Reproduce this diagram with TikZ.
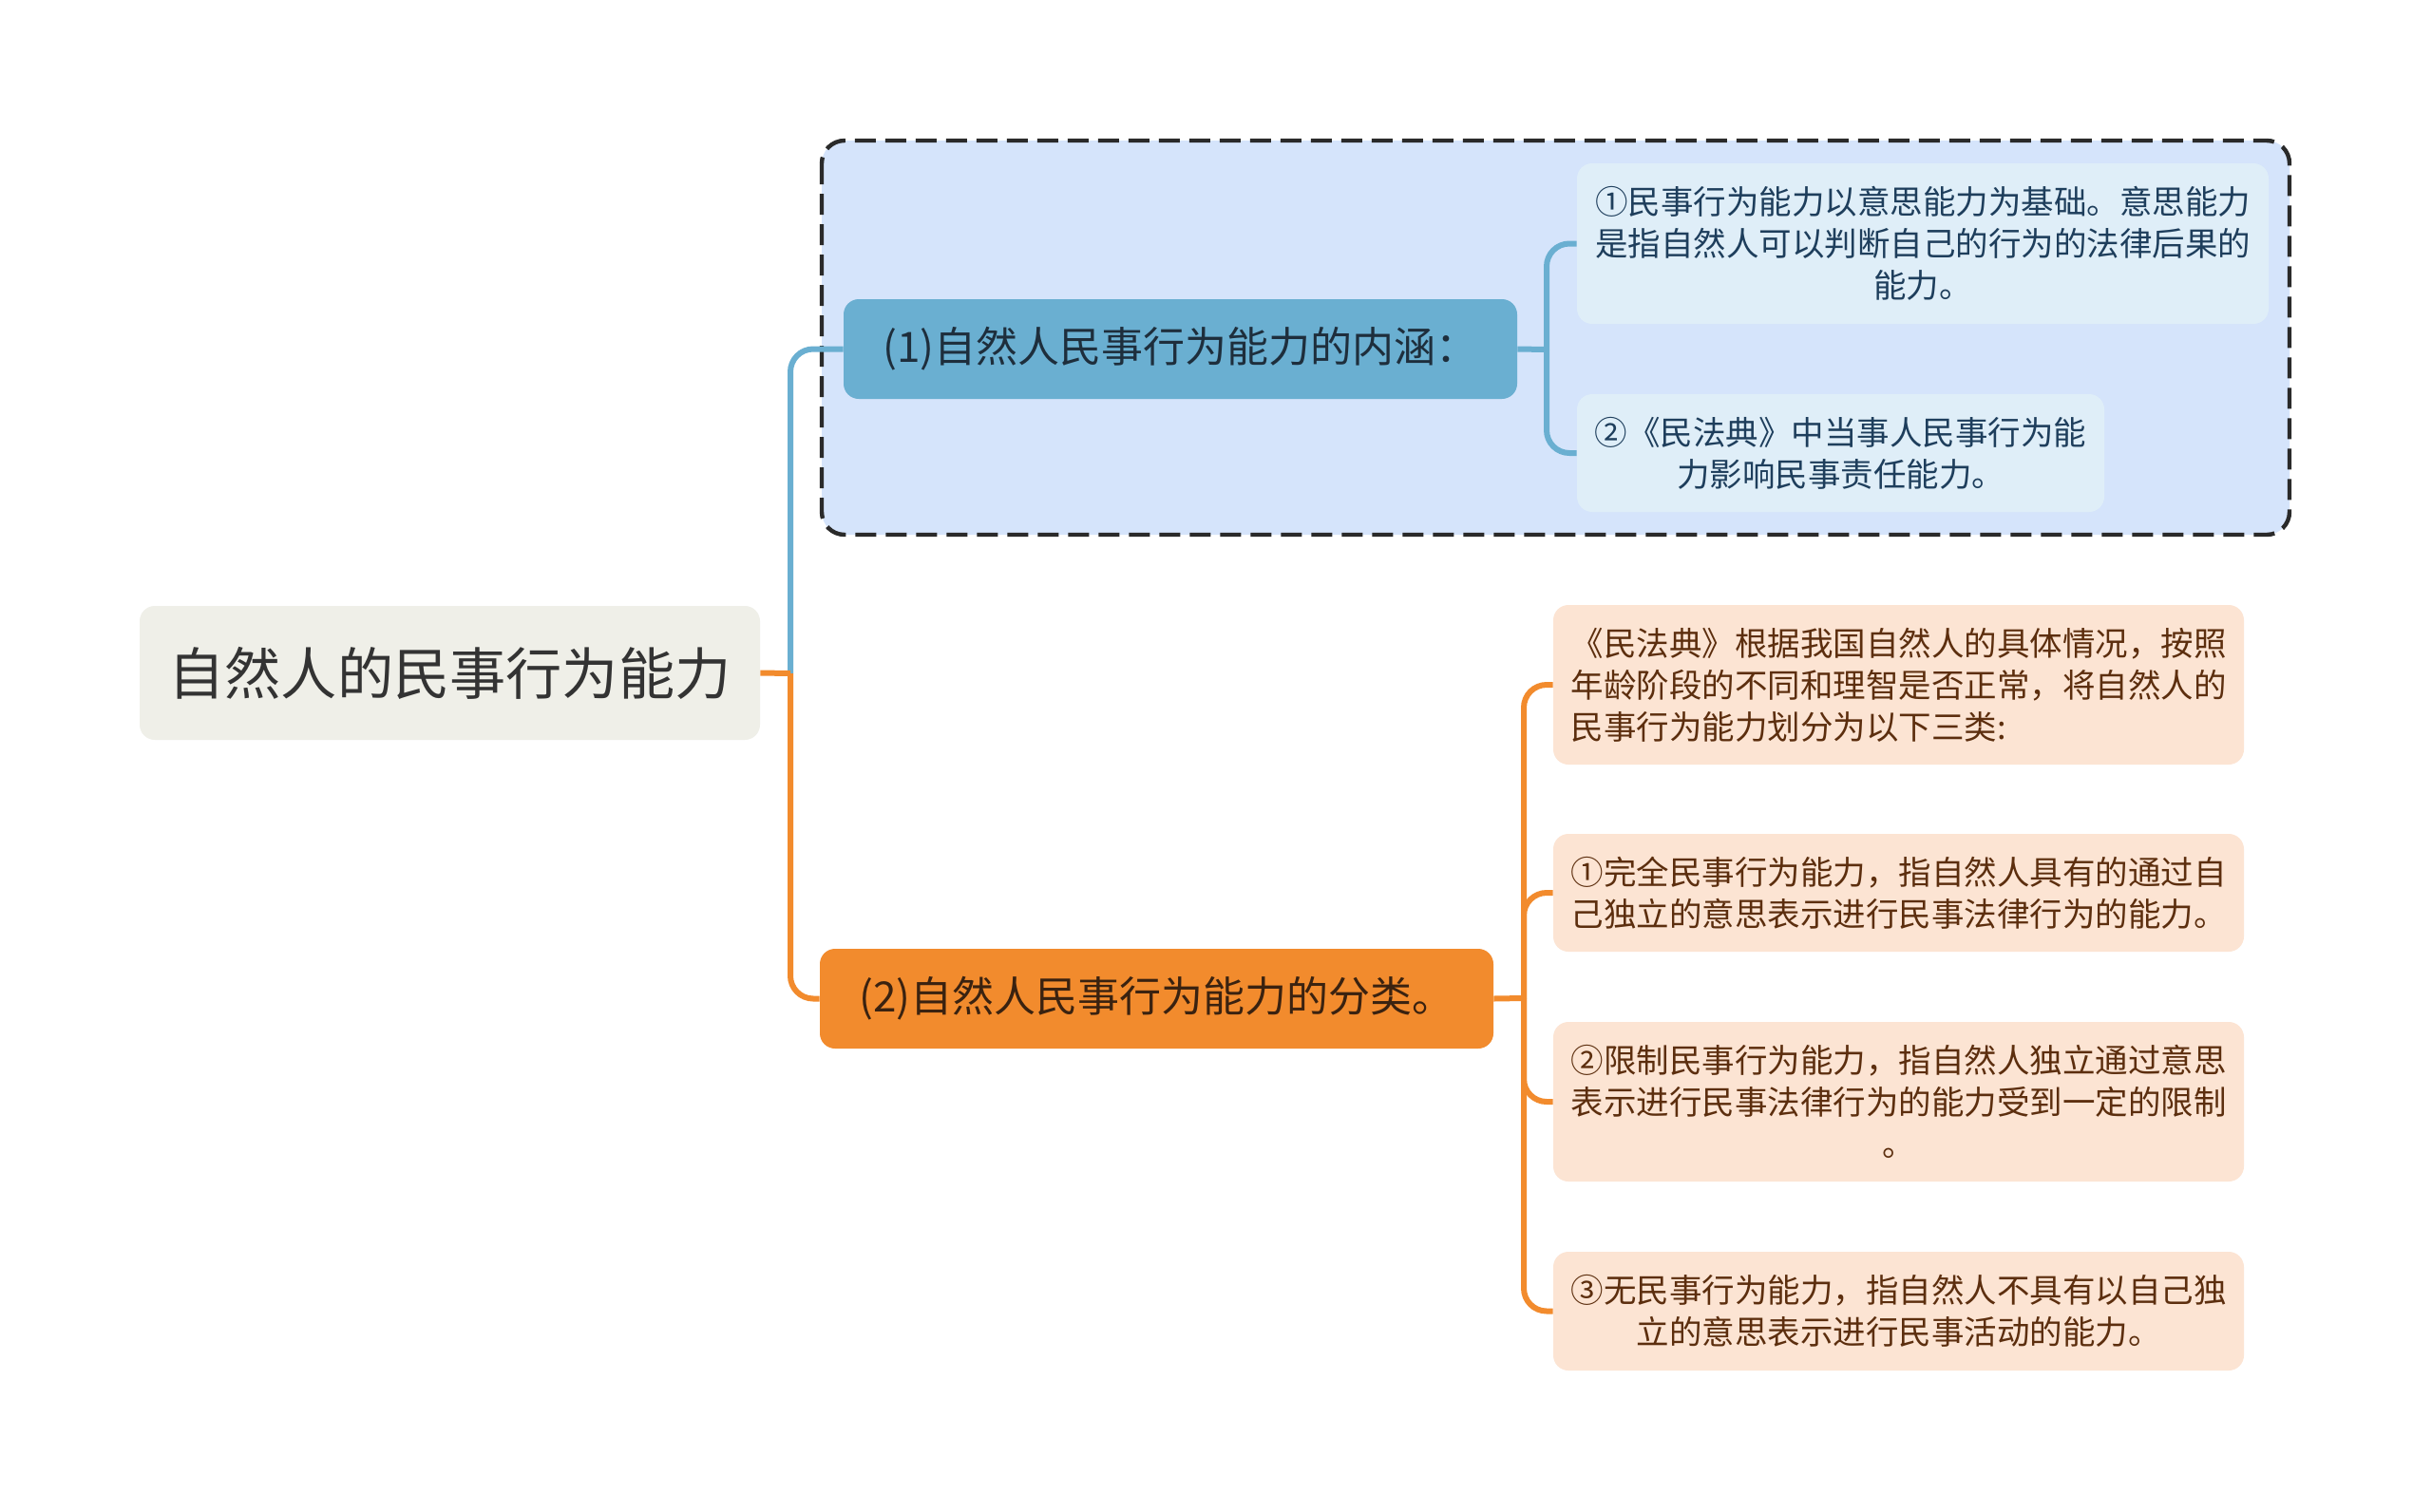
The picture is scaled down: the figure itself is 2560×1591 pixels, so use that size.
\documentclass[tikz,border=0pt]{standalone}
\usepackage{fontspec}
\setmainfont{Noto Sans CJK SC}
\definecolor{rootfill}{HTML}{EFEFE8}
\definecolor{roottext}{HTML}{333333}
\definecolor{groupfill}{HTML}{D5E4FB}
\definecolor{groupline}{HTML}{2A2A2A}
\definecolor{bluemain}{HTML}{6AAFD1}
\definecolor{bluetext}{HTML}{1E2E3C}
\definecolor{blueleaf}{HTML}{DFEEF8}
\definecolor{blueleaftext}{HTML}{1E3E5C}
\definecolor{orangemain}{HTML}{F28B2D}
\definecolor{orangetext}{HTML}{3A2210}
\definecolor{orangeleaf}{HTML}{FCE4D3}
\definecolor{orangeleaftext}{HTML}{5C2E0E}
\tikzset{
  rootbox/.style={fill=rootfill, text=roottext, rounded corners=8pt, inner sep=0pt,
    minimum width=326.5pt, minimum height=70.5pt, font=\fontsize{29.6}{34}\selectfont},
  mainbox/.style={rounded corners=8pt, inner sep=0pt, minimum width=354.5pt,
    minimum height=52.5pt, font=\fontsize{22}{26}\selectfont},
  leafbox/.style={rounded corners=8pt, inner sep=0pt, minimum width=363.5pt,
    font=\fontsize{17.25}{22}\selectfont},
  bluewire/.style={draw=bluemain, line width=3pt, rounded corners=12pt},
  orangewire/.style={draw=orangemain, line width=3pt, rounded corners=12pt},
}
\begin{document}
\begin{tikzpicture}[x=0.5pt,y=-0.5pt]
\useasboundingbox (0,0) rectangle (2560,1591);
\fill[white] (0,0) rectangle (2560,1591);
% group box
\draw[fill=groupfill, draw=groupline, line width=2.2pt, dash pattern=on 11pt off 5pt, rounded corners=12pt]
  (865,148) rectangle (2410,563);
% nodes
\node[rootbox] (root) at (473.5,708.5) {自然人的民事行为能力};
\node[mainbox, fill=bluemain, text=bluetext] (n1) at (1242.5,367.5) {(1)自然人民事行为能力的内涵：};
\node[leafbox, fill=blueleaf, text=blueleaftext, minimum width=364pt, minimum height=84.5pt, align=center]
  (b1) at (2024,256.5) {①民事行为能力以意思能力为基础。意思能力\\是指自然人可以判断自己的行为的法律后果的\\能力。};
\node[leafbox, fill=blueleaf, text=blueleaftext, minimum width=277.5pt, minimum height=62pt, align=center]
  (b2) at (1937.5,477) {②《民法典》中当事人民事行为能\\力影响民事责任能力。};
\node[mainbox, fill=orangemain, text=orangetext] (n2) at (1217.5,1051.5) {(2)自然人民事行为能力的分类。};
\node[leafbox, fill=orangeleaf, text=orangeleaftext, minimum height=84pt, align=left]
  (o1) at (1998.5,721) {《民法典》根据我国自然人的具体情况，按照\\年龄阶段的不同和理智是否正常，将自然人的\\民事行为能力划分为以下三类:};
\node[leafbox, fill=orangeleaf, text=orangeleaftext, minimum height=62pt, align=center]
  (o2) at (1998.5,940) {①完全民事行为能力，指自然人具有的通过自\\己独立的意思表示进行民事法律行为的能力。};
\node[leafbox, fill=orangeleaf, text=orangeleaftext, minimum height=84pt, align=center]
  (o3) at (1998.5,1160) {②限制民事行为能力，指自然人独立通过意思\\表示进行民事法律行为的能力受到一定的限制\\。};
\node[leafbox, fill=orangeleaf, text=orangeleaftext, minimum height=62.5pt, align=center]
  (o4) at (1998.5,1380.5) {③无民事行为能力，指自然人不具有以自己独\\立的意思表示进行民事活动的能力。};
% junctions
\coordinate (j0) at (832,709);
\coordinate (j1) at (1628,368);
\coordinate (j2) at (1604,1051);
% connectors
\draw[bluewire] (j0) |- (n1.west);
\draw[orangewire] (j0) |- (n2.west);
\draw[orangewire] (root.east) -- (j0);
\draw[bluewire] (n1.east) -- (j1);
\draw[bluewire] (j1) |- (b1.west);
\draw[bluewire] (j1) |- (b2.west);
\draw[orangewire] (n2.east) -- (j2);
\draw[orangewire] (j2) |- (o1.west);
\draw[orangewire] (j2) |- (o2.west);
\draw[orangewire] (j2) |- (o3.west);
\draw[orangewire] (j2) |- (o4.west);
\end{tikzpicture}
\end{document}
